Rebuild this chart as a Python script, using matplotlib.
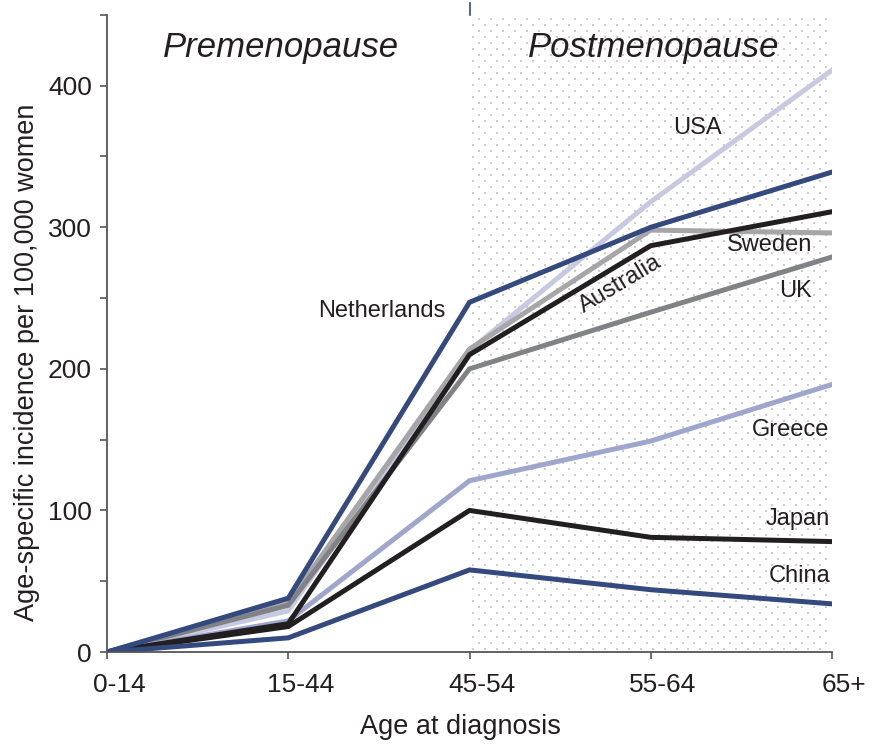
import numpy as np
import matplotlib
matplotlib.use('Agg')
import matplotlib.pyplot as plt
import matplotlib.transforms as mtransforms
from matplotlib.ticker import MultipleLocator

plt.rcParams['font.family'] = ['Liberation Sans', 'DejaVu Sans']

age_groups = ['0-14', '15-44', '45-54', '55-64', '65+']

# age-specific incidence per 100,000 women
usa = [0, 29, 213, 318, 411]
sweden = [0, 35, 214, 298, 296]
uk = [0, 33, 200, 240, 279]
greece = [0, 22, 121, 149, 189]
australia = [0, 20, 210, 287, 311]
japan = [0, 18, 100, 81, 78]
china = [0, 10, 58, 44, 34]
netherlands = [0, 38, 247, 300, 339]

BLUE = '#34497e'
BLACK = '#231f20'

series = [
    (usa, '#c6c9e0'),
    (sweden, '#a6a6a8'),
    (uk, '#808285'),
    (greece, '#9ea6cc'),
    (australia, BLACK),
    (japan, BLACK),
    (china, BLUE),
    (netherlands, BLUE),
]

fig = plt.figure(figsize=(8.78, 7.46), dpi=100)
ax = fig.add_axes([0.1219, 0.126, 0.8257, 0.854])
ax.set_xlim(0, 4)
ax.set_ylim(0, 450)

x = np.arange(len(age_groups))
menopause_idx = age_groups.index('45-54')

# dotted background for postmenopause (staggered grid of small squares)
dx = 4 / 725 * 12
dy = 450 / 637 * 6
rows = np.arange(dy / 2, 450, dy)
px, py = [], []
for i, yy in enumerate(rows):
    xs = np.arange(menopause_idx + dx / 4 + (i % 2) * dx / 2, 4, dx)
    px.extend(xs)
    py.extend([yy] * len(xs))
ax.scatter(px, py, s=4.6, marker='s', color='#cdcdcd', linewidths=0, zorder=0)
ax.axvline(menopause_idx, ymin=1.0, ymax=1.018, color=BLUE, lw=1.2,
           clip_on=False)

for vals, col in series:
    ax.plot(x, vals, color=col, lw=3.6, solid_joinstyle='miter', zorder=2)

txt = dict(color=BLACK, fontsize=17, ha='center', va='center')
ax.text(1.517, 241, 'Netherlands', **txt)
ax.text(3.255, 370, 'USA', **txt)
ax.text(2.83, 260, 'Australia', rotation=31, **txt)
ax.text(3.658, 287.5, 'Sweden', **txt)
ax.text(3.796, 255, 'UK', **txt)
ax.text(3.774, 157, 'Greece', **txt)
ax.text(3.812, 94, 'Japan', **txt)
ax.text(3.823, 54, 'China', **txt)

ax.text(0.96, 427, 'Premenopause', style='italic', fontsize=25,
        color=BLACK, ha='center', va='center')
ax.text(3.018, 427, 'Postmenopause', style='italic', fontsize=25,
        color=BLACK, ha='center', va='center')

ax.set_xticks(x)
ax.set_xticklabels(age_groups)
ax.yaxis.set_major_locator(MultipleLocator(100))
ax.yaxis.set_minor_locator(MultipleLocator(50))
ax.tick_params(axis='both', which='both', direction='out', length=5,
               width=1.2, color='#555555', labelsize=19, labelcolor=BLACK)
ax.tick_params(axis='x', pad=10)
ax.tick_params(axis='y', pad=6)

# the x tick labels sit a little right of their ticks
shift = mtransforms.ScaledTranslation(12 / 100, 0, fig.dpi_scale_trans)
for lbl in ax.get_xticklabels():
    lbl.set_transform(lbl.get_transform() + shift)

for s in ['top', 'right']:
    ax.spines[s].set_visible(False)
for s in ['left', 'bottom']:
    ax.spines[s].set_color('#555555')
    ax.spines[s].set_linewidth(1.3)

ax.set_xlabel('Age at diagnosis', fontsize=19.5, color=BLACK)
ax.set_ylabel('Age-specific incidence per 100,000 women', fontsize=19.5,
              color=BLACK)
ax.xaxis.set_label_coords(0.487, -0.098)
ax.yaxis.set_label_coords(-0.093, 0.455)

fig.savefig('out.png', dpi=100)
